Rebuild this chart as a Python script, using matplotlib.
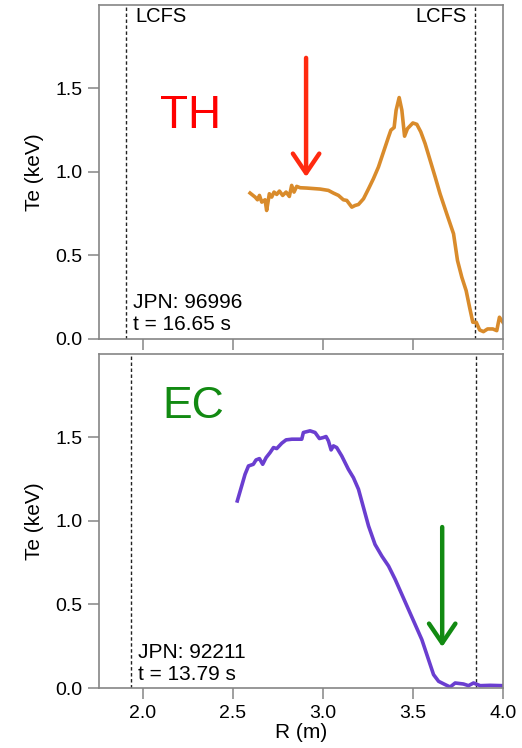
import numpy as np
import matplotlib
matplotlib.use("Agg")
import matplotlib.pyplot as plt

plt.rcParams["font.family"] = ["Liberation Sans", "DejaVu Sans"]

# TH 방전 (JPN 96996) Te 프로파일
r_th = [2.595, 2.623, 2.636, 2.647, 2.660, 2.678, 2.687, 2.702, 2.715, 2.728,
        2.743, 2.758, 2.776, 2.795, 2.813, 2.826, 2.839, 2.854, 2.873, 2.910,
        2.984, 3.030, 3.058, 3.086, 3.113, 3.132, 3.160, 3.178, 3.197, 3.225,
        3.253, 3.280, 3.308, 3.336, 3.364, 3.377, 3.395, 3.406, 3.423, 3.438,
        3.453, 3.469, 3.499, 3.521, 3.543, 3.567, 3.595, 3.623, 3.650, 3.687,
        3.725, 3.747, 3.771, 3.795, 3.814, 3.832, 3.851, 3.870, 3.891, 3.914,
        3.943, 3.965, 3.980, 3.999]
te_th = [0.872, 0.848, 0.832, 0.858, 0.818, 0.832, 0.768, 0.868, 0.848, 0.878,
         0.864, 0.884, 0.858, 0.878, 0.852, 0.918, 0.878, 0.912, 0.904, 0.902,
         0.896, 0.888, 0.872, 0.858, 0.832, 0.828, 0.788, 0.798, 0.804, 0.838,
         0.898, 0.958, 1.028, 1.118, 1.208, 1.248, 1.264, 1.367, 1.443, 1.367,
         1.212, 1.257, 1.291, 1.283, 1.238, 1.168, 1.068, 0.968, 0.868, 0.749,
         0.629, 0.469, 0.369, 0.289, 0.190, 0.100, 0.100, 0.054, 0.044, 0.060,
         0.060, 0.050, 0.130, 0.100]

# EC 방전 (JPN 92211) Te 프로파일
r_ec = [2.524, 2.543, 2.567, 2.586, 2.613, 2.628, 2.647, 2.665, 2.684, 2.706,
        2.725, 2.743, 2.771, 2.795, 2.827, 2.882, 2.891, 2.928, 2.956, 2.980,
        3.002, 3.017, 3.030, 3.045, 3.058, 3.076, 3.104, 3.141, 3.169, 3.197,
        3.225, 3.253, 3.289, 3.327, 3.364, 3.401, 3.438, 3.475, 3.512, 3.549,
        3.586, 3.614, 3.642, 3.679, 3.706, 3.734, 3.780, 3.808, 3.836, 3.873,
        3.928, 3.999]
te_ec = [1.118, 1.188, 1.277, 1.327, 1.337, 1.363, 1.371, 1.337, 1.377, 1.407,
         1.437, 1.431, 1.463, 1.483, 1.487, 1.487, 1.527, 1.537, 1.527, 1.491,
         1.497, 1.503, 1.477, 1.423, 1.447, 1.437, 1.387, 1.307, 1.257, 1.188,
         1.078, 0.968, 0.858, 0.788, 0.729, 0.649, 0.559, 0.469, 0.379, 0.289,
         0.170, 0.080, 0.040, 0.020, 0.006, 0.030, 0.024, 0.014, 0.030, 0.014,
         0.016, 0.014]

lcfs_th = [1.906, 3.845]
lcfs_ec = [1.934, 3.850]
x_ticks = [2.0, 2.5, 3.0, 3.5, 4.0]
y_ticks = [0.0, 0.5, 1.0, 1.5]

SPINE = "#858585"
ARROW = "->,head_length=1.4,head_width=0.95"


def style_axes(ax, show_xlabels):
    ax.set_xlim(1.756, 4.0)
    ax.set_ylim(0, 1.996)
    ax.set_xticks(x_ticks)
    ax.set_yticks(y_ticks)
    ax.set_yticklabels([f"{v:.1f}" for v in y_ticks])
    if show_xlabels:
        ax.set_xticklabels([f"{v:.1f}" for v in x_ticks])
    else:
        ax.set_xticklabels([])
    ax.tick_params(direction="out", length=8, width=1.1, color=SPINE,
                   labelsize=14, pad=4)
    for s in ax.spines.values():
        s.set_color(SPINE)
        s.set_linewidth(1.2)
    ax.set_ylabel("Te (keV)", fontsize=15, labelpad=8)


fig = plt.figure(figsize=(5.22, 7.48), dpi=100)
ax1 = fig.add_axes([0.1897, 0.5468, 0.774, 0.4465])
ax2 = fig.add_axes([0.1897, 0.0802, 0.774, 0.4465])

# 위 패널: TH
for r in lcfs_th:
    ax1.axvline(r, color="#222222", lw=1.0, ls=(0, (2.5, 1.8)))
ax1.plot(r_th, te_th, color="#d98b2b", lw=2.6, solid_joinstyle="round")
ax1.text(1.956, 1.985, "LCFS", fontsize=14.5, va="top", ha="left")
ax1.text(3.80, 1.985, "LCFS", fontsize=14.5, va="top", ha="right")
ax1.text(2.095, 1.261, "TH", fontsize=33, color="#ff0000", va="baseline")
ax1.text(1.945, 0.185, "JPN: 96996", fontsize=15, va="baseline")
ax1.text(1.945, 0.054, "t = 16.65 s", fontsize=15, va="baseline")
ax1.annotate("", xy=(2.906, 0.968), xytext=(2.906, 1.68),
             arrowprops=dict(arrowstyle=ARROW, color="#ff2a10", lw=3.2,
                             mutation_scale=10, shrinkA=0, shrinkB=0))
style_axes(ax1, False)

# 아래 패널: EC
for r in lcfs_ec:
    ax2.axvline(r, color="#222222", lw=1.0, ls=(0, (2.5, 1.8)))
ax2.plot(r_ec, te_ec, color="#6a3ed0", lw=2.6, solid_joinstyle="round")
ax2.text(2.106, 1.614, "EC", fontsize=32, color="#128a12", va="baseline")
ax2.text(1.973, 0.179, "JPN: 92211", fontsize=15, va="baseline")
ax2.text(1.973, 0.048, "t = 13.79 s", fontsize=15, va="baseline")
ax2.annotate("", xy=(3.662, 0.245), xytext=(3.662, 0.962),
             arrowprops=dict(arrowstyle=ARROW, color="#128a12", lw=3.2,
                             mutation_scale=10, shrinkA=0, shrinkB=0))
style_axes(ax2, True)
ax2.set_xlabel("R (m)", fontsize=15, labelpad=1)

fig.savefig("out.png", dpi=100)
